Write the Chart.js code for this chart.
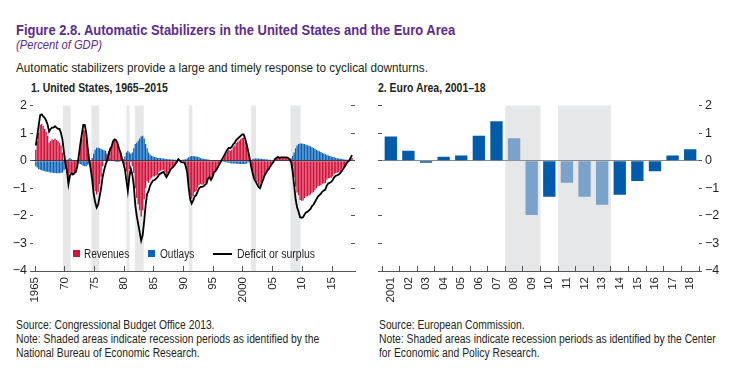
<!DOCTYPE html>
<html lang="en">
<head>
<meta charset="UTF-8">
<title>Figure 2.8. Automatic Stabilizers</title>
<script src="https://cdn.jsdelivr.net/npm/chart.js"></script>
<style>
  body { margin:0; width:749px; height:380px; background:#fff; position:relative; overflow:hidden;
         font-family:"Liberation Sans",Arial,sans-serif; color:#231f20; }
  .t { position:absolute; white-space:nowrap; line-height:1; transform-origin:0 0; }
  .title { left:16px; top:23px; font-size:14.5px; font-weight:bold; color:#5b2c8f; }
  .sub { left:16px; top:38.5px; font-size:12.5px; font-style:italic; color:#5b2c8f; }
  .lead { left:16px; top:60.5px; font-size:13px; }
  .panel { top:82px; font-size:12px; font-weight:bold; }
  .note { top:318px; font-size:12px; line-height:14px; }
  .lg { top:247.5px; font-size:12.5px; }
  .sw { position:absolute; width:7px; height:7px; top:250px; }
  canvas { position:absolute; }
</style>
</head>
<body>
<div class="t title" data-w="439">Figure 2.8. Automatic Stabilizers in the United States and the Euro Area</div>
<div class="t sub" data-w="86">(Percent of GDP)</div>
<div class="t lead" data-w="412">Automatic stabilizers provide a large and timely response to cyclical downturns.</div>
<div class="t panel" style="left:31px" data-w="137">1. United States, 1965–2015</div>
<div class="t panel" style="left:378px" data-w="108">2. Euro Area, 2001–18</div>

<div style="position:absolute;left:0;top:95px;width:370px;height:215px"><canvas id="usChart"></canvas></div>
<div style="position:absolute;left:370px;top:95px;width:379px;height:215px"><canvas id="euChart"></canvas></div>

<!-- legend of panel 1 -->
<div class="sw" style="left:73px;background:#d2143c"></div>
<div class="t lg" style="left:84px" data-w="45">Revenues</div>
<div class="sw" style="left:148px;background:#0b63b5"></div>
<div class="t lg" style="left:160px" data-w="34">Outlays</div>
<div style="position:absolute;left:213px;top:253px;width:19px;height:2px;background:#000"></div>
<div class="t lg" style="left:237px" data-w="78">Deficit or surplus</div>

<div class="t note" style="left:16px" data-w="303">Source: Congressional Budget Office 2013.<br>Note: Shaded areas indicate recession periods as identified by the<br>National Bureau of Economic Research.</div>
<div class="t note" style="left:379px" data-w="337">Source: European Commission.<br>Note: Shaded areas indicate recession periods as identified by the Center<br>for Economic and Policy Research.</div>

<script>
// condensed look: squeeze each text block to the width it has in the original
document.querySelectorAll('[data-w]').forEach(el => {
  el.style.transform = 'scaleX(' + (el.dataset.w / el.offsetWidth) + ')';
});

// ---- data: United States, quarterly from 1965Q1 (percent of GDP)
const usStartYear = 1965;
const usRevenues = [
  0.4, 0.7, 1.0, 1.3,   1.33, 1.25, 1.15, 1.05,   0.9, 0.65, 0.72, 0.78,   0.75, 0.8, 0.75, 0.7,     // 65-68
  0.65, 0.55, 0.3, -0.05,   -0.3, -0.45, -0.8, -0.45,   -0.4, -0.5, -0.5, -0.45,   -0.28, 0.1, 0.48, 0.8, // 69-72
  1.12, 1.1, 0.8, 0.3,   -0.1, -0.3, -0.6, -0.95,   -1.1, -1.23, -1.13, -0.85,   -0.58, -0.2, 0.03, 0.2, // 73-76
  0.25, 0.35, 0.48, 0.53,   0.7, 0.74, 0.7, 0.6,   0.4, 0.27, 0.1, -0.05,   -0.15, -0.4, -0.75, -0.3,   // 77-80
  -0.05, -0.2, -0.45, -1.0,   -1.35, -1.58, -1.8, -2.02,   -1.8, -1.4, -1.0, -0.75,   -0.8, -0.68, -0.62, -0.57, // 81-84
  -0.57, -0.53, -0.5, -0.4,   -0.37, -0.35, -0.33, -0.43,   -0.54, -0.45, -0.35, -0.26,   -0.21, -0.17, -0.09, -0.03, // 85-88
  0.07, 0.02, -0.03, -0.03,   -0.02, -0.15, -0.37, -0.88,   -1.25, -1.38, -1.28, -1.14,   -1.1, -0.98, -0.88, -0.85, // 89-92
  -0.87, -0.86, -0.82, -0.78,   -0.61, -0.57, -0.68, -0.59,   -0.42, -0.38, -0.3, -0.21,   -0.12, -0.03, 0.06, 0.15, // 93-96
  0.24, 0.33, 0.39, 0.36,   0.4, 0.49, 0.55, 0.64,   0.69, 0.73, 0.78, 0.83,   0.83, 0.68, 0.5, 0.28,     // 97-00
  0.07, -0.18, -0.4, -0.58,   -0.67, -0.77, -0.87, -0.93,   -0.78, -0.64, -0.5, -0.4,   -0.31, -0.27, -0.17, -0.1, // 01-04
  -0.03, 0.07, 0.11, 0.15,   0.11, 0.13, 0.12, 0.12,   0.12, 0.12, 0.1, 0.07,   0.02, -0.22, -0.6, -0.95,  // 05-08
  -1.15, -1.25, -1.43, -1.45,   -1.44, -1.35, -1.3, -1.29,   -1.26, -1.23, -1.16, -1.14,   -1.07, -1.0, -0.93, -0.91, // 09-12
  -0.89, -0.84, -0.82, -0.82,   -0.69, -0.64, -0.63, -0.62,   -0.57, -0.48, -0.45, -0.44,   -0.42, -0.38, -0.32, -0.25, // 13-16
  -0.18, -0.09, -0.02, 0.02,   0.12, 0.1                                                          // 17-18
];
const usOutlays = [
  -0.2, -0.25, -0.3, -0.33,   -0.35, -0.37, -0.38, -0.4,   -0.4, -0.42, -0.43, -0.44,   -0.45, -0.45, -0.46, -0.46, // 65-68
  -0.46, -0.45, -0.43, -0.35,   -0.25, -0.1, 0.05, 0.1,   0.05, 0.0, -0.05, -0.05,   -0.08, -0.1, -0.12, -0.15, // 69-72
  -0.18, -0.2, -0.2, -0.15,   -0.1, 0.0, 0.1, 0.25,   0.4, 0.47, 0.47, 0.45,   0.42, 0.4, 0.38, 0.35,        // 73-76
  0.25, 0.15, 0.08, 0.03,   0.0, -0.03, -0.05, -0.05,   -0.05, -0.03, 0.0, 0.05,   0.15, 0.3, 0.35, 0.3,     // 77-80
  0.25, 0.3, 0.45, 0.6,   0.65, 0.72, 0.8, 0.88,   0.9, 0.8, 0.6, 0.45,   0.3, 0.22, 0.18, 0.15,           // 81-84
  0.13, 0.12, 0.1, 0.1,   0.1, 0.08, 0.08, 0.07,   0.06, 0.05, 0.05, 0.04,   0.04, 0.03, 0.03, 0.02,        // 85-88
  0.02, 0.02, 0.02, 0.03,   0.04, 0.05, 0.08, 0.12,   0.15, 0.17, 0.17, 0.16,   0.15, 0.14, 0.12, 0.1,       // 89-92
  0.08, 0.07, 0.06, 0.05,   0.04, 0.03, 0.02, 0.01,   0.0, 0.0, 0.0, -0.01,   -0.02, -0.03, -0.04, -0.05,     // 93-96
  -0.06, -0.07, -0.08, -0.09,   -0.1, -0.1, -0.1, -0.11,   -0.11, -0.12, -0.12, -0.12,   -0.12, -0.12, -0.1, -0.07, // 97-00
  -0.03, 0.02, 0.05, 0.07,   0.08, 0.08, 0.08, 0.07,   0.07, 0.06, 0.05, 0.05,   0.04, 0.03, 0.03, 0.02,       // 01-04
  0.02, 0.02, 0.01, 0.01,   0.01, 0.01, 0.0, 0.0,   0.0, 0.0, 0.0, 0.02,   0.08, 0.18, 0.3, 0.45,             // 05-08
  0.55, 0.6, 0.62, 0.62,   0.61, 0.6, 0.58, 0.56,   0.54, 0.52, 0.49, 0.46,   0.43, 0.4, 0.37, 0.34,         // 09-12
  0.31, 0.28, 0.26, 0.23,   0.21, 0.19, 0.17, 0.15,   0.13, 0.12, 0.1, 0.09,   0.08, 0.07, 0.06, 0.05,       // 13-16
  0.04, 0.03, 0.03, 0.02,   0.02, 0.01                                                            // 17-18
];
const usDeficit = [
  0.55, 0.9, 1.3, 1.65,   1.68, 1.6, 1.55, 1.45,   1.3, 1.05, 1.15, 1.2,   1.2, 1.25, 1.2, 1.15,         // 65-68
  1.15, 1.0, 0.75, 0.3,   -0.1, -0.35, -0.85, -0.55,   -0.45, -0.5, -0.45, -0.4,   -0.2, 0.2, 0.6, 0.95,  // 69-72
  1.3, 1.3, 1.0, 0.45,   0.0, -0.3, -0.7, -1.2,   -1.5, -1.7, -1.6, -1.3,   -1.0, -0.6, -0.35, -0.15,      // 73-76
  0.0, 0.2, 0.4, 0.5,   0.7, 0.77, 0.75, 0.65,   0.45, 0.3, 0.1, -0.1,   -0.3, -0.7, -1.1, -0.6,           // 77-80
  -0.3, -0.5, -0.9, -1.6,   -2.0, -2.3, -2.6, -2.9,   -2.7, -2.2, -1.6, -1.2,   -1.1, -0.9, -0.8, -0.72,    // 81-84
  -0.7, -0.65, -0.6, -0.5,   -0.47, -0.43, -0.41, -0.5,   -0.6, -0.5, -0.4, -0.3,   -0.25, -0.2, -0.12, -0.05, // 85-88
  0.05, 0.0, -0.05, -0.06,   -0.06, -0.2, -0.45, -1.0,   -1.4, -1.55, -1.45, -1.3,   -1.25, -1.12, -1.0, -0.95, // 89-92
  -0.95, -0.93, -0.88, -0.83,   -0.65, -0.6, -0.7, -0.6,   -0.42, -0.38, -0.3, -0.2,   -0.1, 0.0, 0.1, 0.2,   // 93-96
  0.3, 0.4, 0.47, 0.45,   0.5, 0.59, 0.65, 0.75,   0.8, 0.85, 0.9, 0.95,   0.95, 0.8, 0.6, 0.35,            // 97-00
  0.1, -0.2, -0.45, -0.65,   -0.75, -0.85, -0.95, -1.0,   -0.85, -0.7, -0.55, -0.45,   -0.35, -0.3, -0.2, -0.12, // 01-04
  -0.05, 0.05, 0.1, 0.14,   0.1, 0.12, 0.12, 0.12,   0.12, 0.12, 0.1, 0.05,   -0.06, -0.4, -0.9, -1.4,     // 05-08
  -1.7, -1.85, -2.05, -2.07,   -2.05, -1.95, -1.88, -1.85,   -1.8, -1.75, -1.65, -1.6,   -1.5, -1.4, -1.3, -1.25, // 09-12
  -1.2, -1.12, -1.08, -1.05,   -0.9, -0.83, -0.8, -0.77,   -0.7, -0.6, -0.55, -0.53,   -0.5, -0.45, -0.38, -0.3, // 13-16
  -0.22, -0.12, -0.05, 0.0,   0.1, 0.2                                                           // 17-18
];
const usTickYears = [1965, 1970, 1975, 1980, 1985, 1990, 1995, 2000, 2005, 2010, 2015];
const usTickLabels = ['1965', '70', '75', '80', '85', '90', '95', '2000', '05', '10', '15'];
const usRecessions = [[1969.7, 1971.0], [1974.5, 1975.8], [1980.4, 1980.9], [1981.8, 1983.3],
                      [1990.9, 1991.5], [2001.4, 2002.2], [2008.0, 2009.7]];

// ---- data: euro area, annual
const euYears = ['2001', '02', '03', '04', '05', '06', '07', '08', '09', '10', '11', '12', '13', '14', '15', '16', '17', '18'];
const euValues = [0.88, 0.36, -0.08, 0.14, 0.19, 0.9, 1.43, 0.81, -1.97, -1.31, -0.8, -1.31, -1.6, -1.24, -0.74, -0.38, 0.19, 0.41];
const euRecessions = [['08', '09'], ['11', '13']];

const yTicks = [-4, -3, -2, -1, 0, 1, 2];

// ---- styling
const RED = '#d2143c', BLUE = '#0b63b5', DARK = '#005baa', LIGHT = '#7ba2cb', SHADE = '#e6e7e8';
const TICKC = '#555';
const XFONT = { family: '"Liberation Sans", Arial, sans-serif', size: 11.5 };
const YFONT = { family: '"Liberation Sans", Arial, sans-serif', size: 12.5 };
const fmtNum = v => (v < 0 ? '\u2212' + Math.abs(v) : String(v));

const shadePlugin = {
  id: 'shade',
  beforeDraw(chart, args, opts) {
    const { ctx, chartArea: a } = chart;
    const x = chart.scales.x;
    ctx.save();
    ctx.fillStyle = SHADE;
    opts.spans.forEach(([s, e]) => {
      const x0 = x.getPixelForValue(s), x1 = x.getPixelForValue(e);
      ctx.fillRect(x0, a.top, x1 - x0, a.bottom - a.top);
    });
    ctx.restore();
  }
};

Chart.defaults.color = '#231f20';
Chart.defaults.animation = false;

function yAxis(pos, width, showLabels, tickLen, zeroColor, z) {
  return {
    position: pos, min: -4, max: 2, stacked: false, z: z,
    afterBuildTicks: s => { s.ticks = yTicks.map(v => ({ value: v })); },
    afterFit: s => { s.width = width; },
    ticks: { display: showLabels, font: YFONT, padding: 3, callback: v => fmtNum(v) },
    grid: {
      drawOnChartArea: !!zeroColor, tickLength: tickLen, tickColor: TICKC, tickWidth: 1,
      color: ctx => (zeroColor && ctx.tick && ctx.tick.value === 0 ? zeroColor : 'rgba(0,0,0,0)'),
      lineWidth: 1
    },
    border: { display: false }
  };
}

// ---- panel 1: United States
const qx = i => usStartYear + i / 4 + 0.125;
const revData = usRevenues.map((v, i) => ({ x: qx(i), y: v }));
const outData = usOutlays.map((v, i) => ({ x: qx(i), y: v }));
const defData = usDeficit.map((v, i) => ({ x: qx(i), y: v }));

new Chart(document.getElementById('usChart'), {
  type: 'bar',
  data: {
    datasets: [
      { type: 'line', label: 'Deficit or surplus', data: defData, order: 0,
        borderColor: '#000', borderWidth: 1.8, pointRadius: 0, tension: 0, yAxisID: 'y' },
      { label: 'Revenues', data: revData, backgroundColor: RED, order: 1,
        categoryPercentage: 0.88, barPercentage: 1, yAxisID: 'y' },
      { label: 'Outlays', data: outData, backgroundColor: BLUE, order: 2,
        categoryPercentage: 0.88, barPercentage: 1, yAxisID: 'y' }
    ]
  },
  options: {
    responsive: true, maintainAspectRatio: false,
    layout: { padding: { top: 7, left: 0, right: 0, bottom: 0 } },
    plugins: { legend: { display: false }, tooltip: { enabled: false }, shade: { spans: usRecessions } },
    scales: {
      // stacked index axis + unstacked value axis: both bar series share a slot and overlap
      x: {
        type: 'linear', min: 1964.66, max: 2018.87, offset: false, stacked: true,
        afterBuildTicks: s => { s.ticks = usTickYears.map(v => ({ value: v })); },
        afterFit: s => { s.height = 39; },
        ticks: { autoSkip: false, minRotation: 90, maxRotation: 90, padding: 11, font: XFONT,
                 callback: v => usTickLabels[usTickYears.indexOf(v)] },
        grid: { drawOnChartArea: false, offset: false, tickLength: -5, tickColor: TICKC },
        border: { display: true, color: TICKC, width: 1 }
      },
      y: yAxis('left', 33, true, 3, '#3a3a3a', 1),
      yR: yAxis('right', 15, false, -4, null, 0)
    }
  },
  plugins: [shadePlugin]
});

// ---- panel 2: euro area
const idx = l => euYears.indexOf(l);
new Chart(document.getElementById('euChart'), {
  type: 'bar',
  data: {
    labels: euYears,
    datasets: [{
      label: 'Euro area', data: euValues, yAxisID: 'y',
      backgroundColor: euYears.map(l => euRecessions.some(([s, e]) => idx(l) >= idx(s) && idx(l) <= idx(e)) ? LIGHT : DARK),
      categoryPercentage: 0.7, barPercentage: 1
    }]
  },
  options: {
    responsive: true, maintainAspectRatio: false,
    layout: { padding: { top: 7, left: 0, right: 0, bottom: 0 } },
    plugins: { legend: { display: false }, tooltip: { enabled: false },
               shade: { spans: euRecessions.map(([s, e]) => [idx(s) - 0.5, idx(e) + 0.5]) } },
    scales: {
      x: {
        type: 'category', offset: true,
        afterFit: s => { s.height = 39; },
        ticks: { autoSkip: false, minRotation: 90, maxRotation: 90, padding: 11, font: XFONT },
        grid: { drawOnChartArea: false, offset: true, tickLength: -5, tickColor: TICKC },
        border: { display: true, color: TICKC, width: 1 }
      },
      yL: yAxis('left', 12, false, 4, null, 0),
      y: yAxis('right', 50, true, 3, '#8c8c8c', 0)
    }
  },
  plugins: [shadePlugin]
});
</script>
</body>
</html>
